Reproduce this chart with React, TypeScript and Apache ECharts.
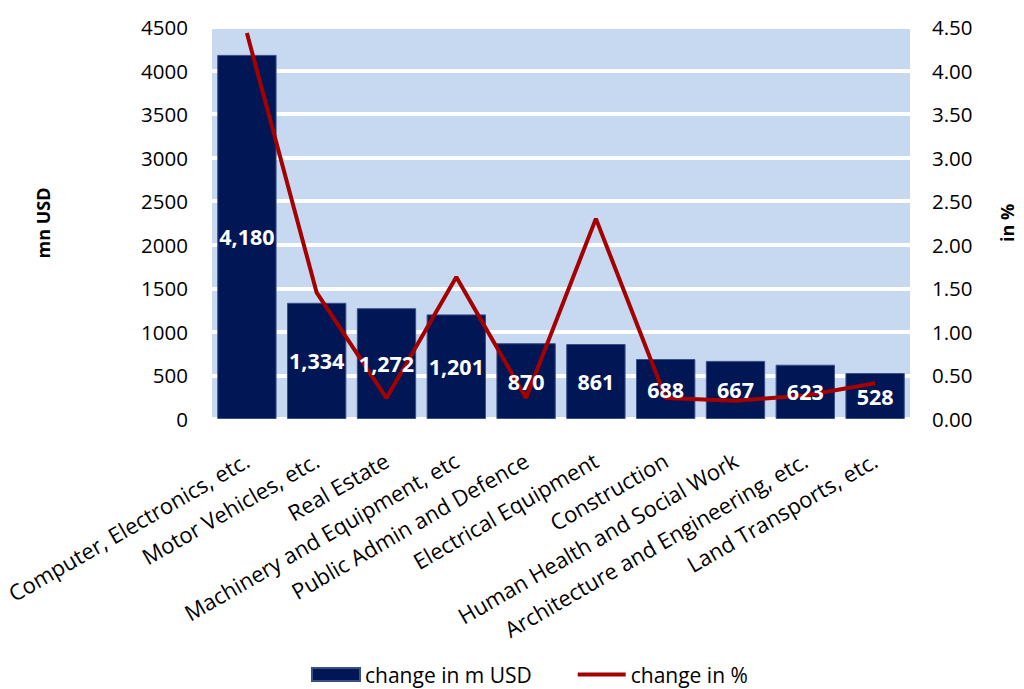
import React, { useEffect, useRef } from "react";
import * as echarts from "echarts";

const categories = [
  "Computer, Electronics, etc.",
  "Motor Vehicles, etc.",
  "Real Estate",
  "Machinery and Equipment, etc",
  "Public Admin and Defence",
  "Electrical Equipment",
  "Construction",
  "Human Health and Social Work",
  "Architecture and Engineering, etc.",
  "Land Transports, etc.",
];
const changeUSD = [4180, 1334, 1272, 1201, 870, 861, 688, 667, 623, 528];
const changePct = [4.43, 1.45, 0.24, 1.63, 0.24, 2.3, 0.24, 0.21, 0.27, 0.41];

const FONT = "'Open Sans', 'Noto Sans', sans-serif";

export default function App() {
  const ref = useRef<HTMLDivElement>(null);
  useEffect(() => {
    if (!ref.current) return;
    const chart = echarts.init(ref.current, undefined, { renderer: "svg" });
    chart.setOption({
      animation: false,
      textStyle: { fontFamily: FONT, color: "#000" },
      grid: {
        left: 212,
        right: 101,
        top: 27,
        bottom: 270,
        show: true,
        backgroundColor: "#C6D9F1",
        borderWidth: 0,
      },
      legend: {
        left: 306,
        top: 659,
        itemWidth: 48,
        itemHeight: 13,
        itemGap: 46,
        textStyle: { fontSize: 21, color: "#000", fontFamily: FONT },
        data: [
          { name: "change in m USD", icon: "rect" },
          { name: "change in %", icon: "path://M0,0 L50,0 L50,4 L0,4 Z" },
        ],
      },
      xAxis: {
        type: "category",
        data: categories,
        axisLine: { show: false },
        axisTick: { show: false },
        axisLabel: {
          interval: 0,
          rotate: 30,
          fontSize: 22,
          color: "#000",
          margin: 39,
          fontFamily: FONT,
        },
      },
      yAxis: [
        {
          type: "value",
          min: 0,
          max: 4500,
          interval: 500,
          name: "mn USD",
          nameLocation: "middle",
          nameRotate: 90,
          nameGap: 160,
          nameTextStyle: { fontSize: 18, fontWeight: "bold", color: "#000", fontFamily: FONT },
          axisLabel: {
            fontSize: 20.5,
            color: "#000",
            margin: 24,
            fontFamily: FONT,
            formatter: (v: number) => String(v),
          },
          axisLine: { show: false },
          axisTick: { show: false },
          splitLine: { show: true, lineStyle: { color: "#fff", width: 4 } },
        },
        {
          type: "value",
          min: 0,
          max: 4.5,
          interval: 0.5,
          name: "in %",
          nameLocation: "middle",
          nameRotate: 90,
          nameGap: 88,
          nameTextStyle: { fontSize: 18, fontWeight: "bold", color: "#000", fontFamily: FONT },
          axisLabel: {
            fontSize: 20.5,
            color: "#000",
            margin: 22,
            fontFamily: FONT,
            formatter: (v: number) => v.toFixed(2),
          },
          axisLine: { show: false },
          axisTick: { show: false },
          splitLine: { show: false },
        },
      ],
      series: [
        {
          name: "change in m USD",
          type: "bar",
          data: changeUSD,
          barCategoryGap: "15%",
          itemStyle: { color: "#001655", borderColor: "#3a4f86", borderWidth: 1 },
          z: 2,
        },
        {
          name: "change in %",
          type: "line",
          yAxisIndex: 1,
          data: changePct,
          symbol: "none",
          lineStyle: { color: "#A50000", width: 4 },
          itemStyle: { color: "#A50000" },
          z: 3,
        },
        {
          name: "labels",
          type: "bar",
          data: changeUSD,
          barCategoryGap: "15%",
          barGap: "-100%",
          itemStyle: { color: "rgba(0,0,0,0)" },
          silent: true,
          z: 4,
          label: {
            show: true,
            position: "inside",
            color: "#fff",
            fontWeight: "bold",
            fontSize: 21.5,
            fontFamily: FONT,
            formatter: (p: any) => Number(p.value).toLocaleString("en-US"),
          },
        },
      ],
    });
    return () => chart.dispose();
  }, []);
  return (
    <div
      ref={ref}
      style={{ position: "fixed", left: 0, top: 0, width: 1024, height: 689, background: "#fff" }}
    />
  );
}
